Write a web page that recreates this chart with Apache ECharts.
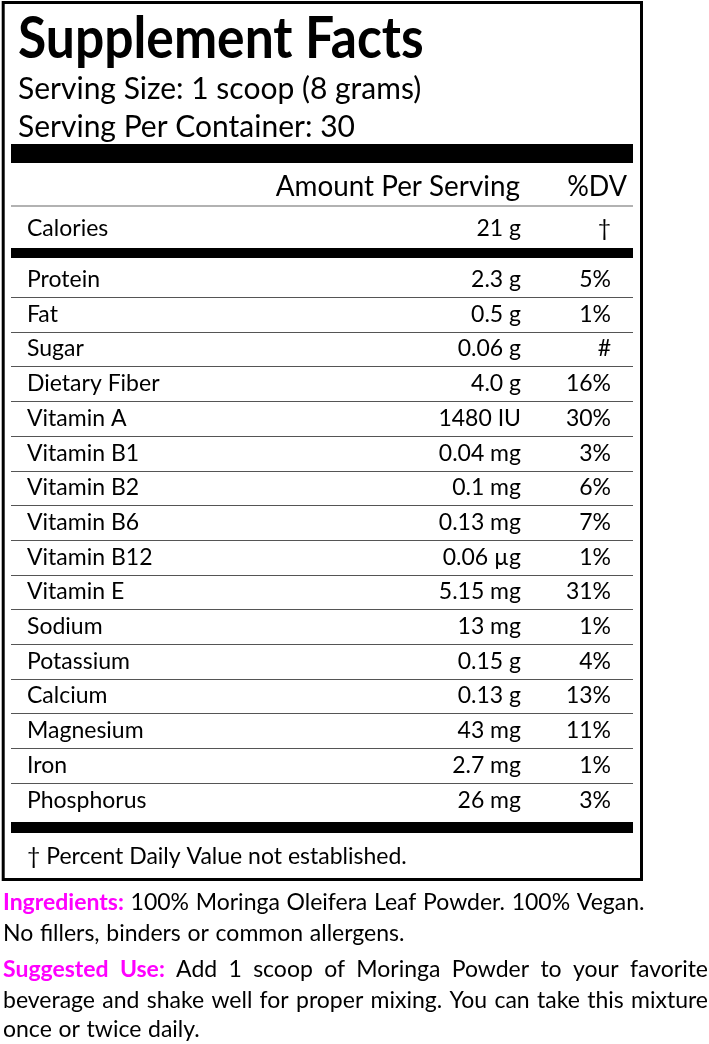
<!DOCTYPE html>
<html><head><meta charset="utf-8">
<script src="https://cdn.jsdelivr.net/npm/echarts@6/dist/echarts.min.js"></script>
<style>html,body{margin:0;padding:0;background:#fff}#c{width:709px;height:1044px}</style>
</head><body><div id="c"></div><script>
// ---- content ----
const title = 'Supplement Facts';
const servingSize = 'Serving Size: 1 scoop (8 grams)';
const servingsPerContainer = 'Serving Per Container: 30';
const columnHeaders = ['Amount Per Serving', '%DV'];
const calorieRow = ['Calories'];
const calorieAmount = ['21 g'];
const calorieDV = ['†'];
const nutrients = ['Protein', 'Fat', 'Sugar', 'Dietary Fiber', 'Vitamin A', 'Vitamin B1', 'Vitamin B2', 'Vitamin B6', 'Vitamin B12', 'Vitamin E', 'Sodium', 'Potassium', 'Calcium', 'Magnesium', 'Iron', 'Phosphorus'];
const amounts = ['2.3 g', '0.5 g', '0.06 g', '4.0 g', '1480 IU', '0.04 mg', '0.1 mg', '0.13 mg', '0.06 µg', '5.15 mg', '13 mg', '0.15 g', '0.13 g', '43 mg', '2.7 mg', '26 mg'];
const dailyValues = ['5%', '1%', '#', '16%', '30%', '3%', '6%', '7%', '1%', '31%', '1%', '4%', '13%', '11%', '1%', '3%'];
const footnote = '† Percent Daily Value not established.';
const ingredientsLabel = 'Ingredients:';
const ingredientsLines = ['100% Moringa Oleifera Leaf Powder. 100% Vegan.', 'No fillers, binders or common allergens.'];
const usageLabel = 'Suggested Use:';
const usageLines = ['Add 1 scoop of Moringa Powder to your favorite', 'beverage and shake well for proper mixing. You can take this mixture', 'once or twice daily.'];

// ---- styling ----
const FONT = 'Lato';
const ROW_SIZE = 23;
const MAGENTA = '#ff00ff';
const COL = { name: 16, amount: 510, dv: 600 }; // px offsets within table grid
const TABLE_LEFT = 11, TABLE_W = 622;

function txt(text, x, y, align, size, weight, color, scaleX) {
  const el = {
    type: 'text', x: x, y: y,
    style: {
      text: text, fill: color || '#000',
      fontSize: size || ROW_SIZE, fontFamily: FONT, fontWeight: weight || 'normal',
      align: align, textAlign: align, verticalAlign: 'middle', textVerticalAlign: 'middle'
    }
  };
  if (scaleX) { el.scaleX = scaleX; }
  return el;
}

function rowRenderer(names, amts, dvs, withLines) {
  return function (params, api) {
    const i = api.value(1);
    const c = api.coord([0, i]);
    const band = api.size([0, 1])[1];
    const x0 = params.coordSys.x;
    const w = params.coordSys.width;
    const y = c[1];
    const children = [
      txt(names[i], x0 + COL.name, y, 'left'),
      txt(amts[i], x0 + COL.amount, y, 'right'),
      txt(dvs[i], x0 + COL.dv, y, 'right')
    ];
    if (withLines && i < names.length - 1) {
      const ly = Math.round(c[1] + band / 2) + 0.5;
      children.push({ type: 'line', shape: { x1: x0, y1: ly, x2: x0 + w, y2: ly },
        style: { stroke: '#555', lineWidth: 1.2 } });
    }
    return { type: 'group', children: children };
  };
}

// ---- text layout for bottom paragraphs ----
const mctx = document.createElement('canvas').getContext('2d');
function measure(s, weight) {
  mctx.font = (weight === 'bold' ? 'bold ' : '') + ROW_SIZE + 'px ' + FONT;
  return mctx.measureText(s).width;
}
function layoutLine(tokens, x0, y, width, justify) {
  const words = [];
  tokens.forEach(function (t) {
    t.text.split(' ').filter(Boolean).forEach(function (w) {
      words.push({ w: w, bold: t.bold, color: t.color });
    });
  });
  words.forEach(function (d) { d.width = measure(d.w, d.bold ? 'bold' : 'normal'); });
  const total = words.reduce(function (s, d) { return s + d.width; }, 0);
  const gap = justify && words.length > 1 ? (width - total) / (words.length - 1) : measure(' ', 'normal') + 0.8;
  const els = [];
  let x = x0;
  words.forEach(function (d) {
    els.push(txt(d.w, x, y, 'left', ROW_SIZE, d.bold ? 'bold' : 'normal', d.color));
    x += d.width + gap;
  });
  return els;
}

const graphicEls = [
  { type: 'rect', shape: { x: 3.2, y: 2.5, width: 638.3, height: 877 }, style: { fill: 'none', stroke: '#000', lineWidth: 3 } },
  txt(title, 18, 39.5, 'left', 57, 'bold', '#000', 0.905),
  txt(servingSize, 18, 89, 'left', 30),
  txt(servingsPerContainer, 18, 127.5, 'left', 30),
  { type: 'rect', shape: { x: TABLE_LEFT, y: 144, width: TABLE_W, height: 19 }, style: { fill: '#000' } },
  txt(columnHeaders[0], 520, 186.5, 'right', 29, 'normal', '#000', 0.96),
  txt(columnHeaders[1], 627, 186.5, 'right', 29, 'normal', '#000', 0.93),
  { type: 'line', shape: { x1: TABLE_LEFT, y1: 206, x2: TABLE_LEFT + TABLE_W, y2: 206 }, style: { stroke: '#999', lineWidth: 1.5 } },
  { type: 'rect', shape: { x: TABLE_LEFT, y: 248, width: TABLE_W, height: 10 }, style: { fill: '#000' } },
  { type: 'rect', shape: { x: TABLE_LEFT, y: 822, width: TABLE_W, height: 11 }, style: { fill: '#000' } },
  txt(footnote, 27, 856.5, 'left')
].concat(
  layoutLine([{ text: ingredientsLabel, bold: true, color: MAGENTA }, { text: ingredientsLines[0] }], 3, 902.5, 640, false),
  layoutLine([{ text: ingredientsLines[1] }], 3, 934, 640, false),
  layoutLine([{ text: usageLabel, bold: true, color: MAGENTA }, { text: usageLines[0] }], 3, 970, 705, true),
  layoutLine([{ text: usageLines[1] }], 3, 1001, 705, true),
  layoutLine([{ text: usageLines[2] }], 3, 1030, 705, false)
);

const chart = echarts.init(document.getElementById('c'), null, { renderer: 'canvas' });
chart.setOption({
  backgroundColor: '#fff',
  animation: false,
  grid: [
    { left: TABLE_LEFT, top: 262.3, width: TABLE_W, height: 555.2 },
    { left: TABLE_LEFT, top: 207, width: TABLE_W, height: 43 }
  ],
  xAxis: [
    { type: 'value', gridIndex: 0, min: 0, max: TABLE_W, show: false },
    { type: 'value', gridIndex: 1, min: 0, max: TABLE_W, show: false }
  ],
  yAxis: [
    { type: 'category', gridIndex: 0, data: nutrients, inverse: true, show: false },
    { type: 'category', gridIndex: 1, data: calorieRow, inverse: true, show: false }
  ],
  series: [
    { type: 'custom', xAxisIndex: 0, yAxisIndex: 0, clip: false, silent: true,
      renderItem: rowRenderer(nutrients, amounts, dailyValues, true),
      data: nutrients.map(function (n, i) { return [0, i]; }) },
    { type: 'custom', xAxisIndex: 1, yAxisIndex: 1, clip: false, silent: true,
      renderItem: rowRenderer(calorieRow, calorieAmount, calorieDV, false),
      data: calorieRow.map(function (n, i) { return [0, i]; }) }
  ],
  graphic: { elements: graphicEls }
});
</script></body></html>
